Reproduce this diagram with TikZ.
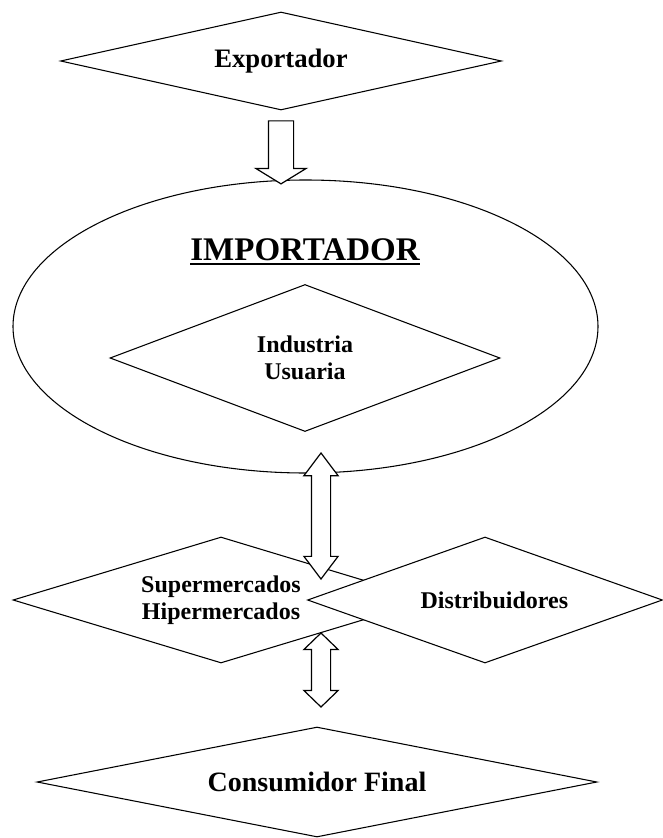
\documentclass[tikz,border=0pt]{standalone}
\usepackage{fontspec}
\setmainfont{Liberation Serif}
\usetikzlibrary{shapes.geometric,shapes.arrows}

\begin{document}
\begin{tikzpicture}[x=0.75pt,y=-0.75pt,
  dia/.style={draw,diamond,fill=white,line width=0.8pt,inner sep=0pt,align=center,font=\bfseries\fontsize{18}{20.5}\selectfont},
  hollow/.style={draw,fill=white,line width=0.9pt,inner xsep=0pt}]
\useasboundingbox (0,0) rectangle (662,838);

\node(I1) [draw,ellipse,line width=0.8pt,minimum width=438.75pt,minimum height=219.75pt] at (305.5,326.5) {};
\node(I0) [inner sep=0pt,anchor=base,font=\bfseries\fontsize{24.75}{26}\selectfont] at (305,260) {IMPORTADOR};
\draw[line width=2pt] ([yshift=-3pt]I0.base west) -- ([yshift=-3pt]I0.base east);
\node(I2) [dia,minimum width=292.5pt,minimum height=110.25pt,aspect=2.65] at (305,358) {Industria\\Usuaria};

\node(X1) [dia,minimum width=330.75pt,minimum height=73.5pt,aspect=4.5,font=\bfseries\fontsize{20}{22}\selectfont] at (281,61) {Exportador};
\node(A1) [hollow,single arrow,rotate=-90,inner ysep=9pt,single arrow head extend=9.4pt,single arrow tip angle=117,single arrow head indent=0pt,minimum height=47.25pt] at (281,148.5) {};

\node(S1) [dia,minimum width=312pt,minimum height=94.5pt,aspect=3.3] at (221,600) {Supermercados\\Hipermercados};
\node(D1) [dia,minimum width=266.25pt,minimum height=94.5pt,aspect=2.8] at (485,600) {\hspace*{14pt}Distribuidores};

\node(A2) [hollow,double arrow,rotate=90,inner ysep=6.75pt,double arrow head extend=5.6pt,double arrow tip angle=74,double arrow head indent=0pt,minimum height=94.5pt] at (321,516) {};
\node(A3) [hollow,double arrow,rotate=90,inner ysep=6.75pt,double arrow head extend=5.6pt,double arrow tip angle=92,double arrow head indent=0pt,minimum height=55.5pt] at (321,670) {};

\node(F1) [dia,minimum width=420pt,minimum height=82.5pt,aspect=5.1,font=\bfseries\fontsize{21}{23}\selectfont] at (317,782) {Consumidor Final};
\end{tikzpicture}
\end{document}
